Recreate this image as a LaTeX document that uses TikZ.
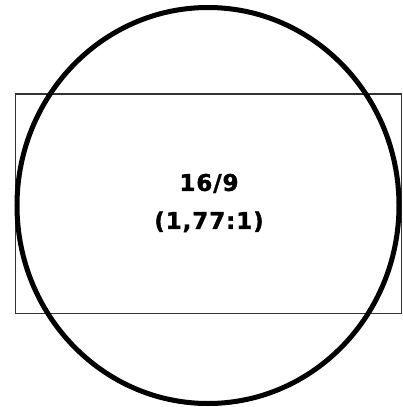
\documentclass[tikz,border=0pt]{standalone}
\usepackage{fontspec}
\newfontfamily\labelfont[LetterSpace=4,FakeBold=1.5]{DejaVu Sans}
\tikzset{
  frame/.style={draw=black!80, line width=1.8pt},
  ring/.style={draw=black, line width=5pt},
  ratio/.style={font=\labelfont\bfseries\fontsize{23}{38}\selectfont, align=center, inner sep=0pt}
}
\begin{document}
\begin{tikzpicture}[x=1pt,y=-1pt]
  \useasboundingbox (0,0) rectangle (403,407);
  \fill[white] (0,0) rectangle (403,407);
  \draw[frame] (15.5,94) rectangle (401.5,313.5);
  \draw[ring] (208,205.5) ellipse [x radius=191, y radius=198];
  \node[ratio] (lbl) at (209,203) {16/9\\(1,77:1)};
\end{tikzpicture}
\end{document}
